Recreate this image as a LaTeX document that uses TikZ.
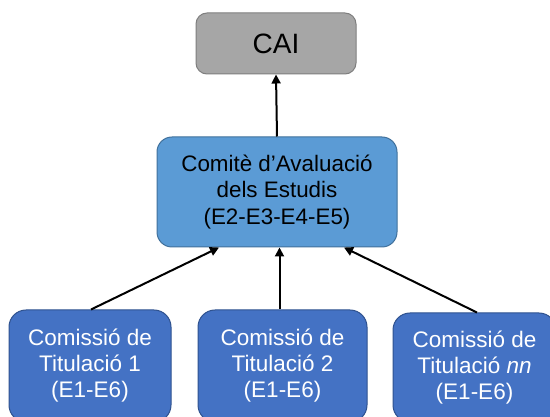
\documentclass[tikz,border=0pt]{standalone}
\usepackage{fontspec}
\setmainfont{Liberation Sans}
\usetikzlibrary{arrows.meta}
\definecolor{caifill}{HTML}{A6A6A6}
\definecolor{caidraw}{HTML}{7F7F7F}
\definecolor{midfill}{HTML}{5B9BD5}
\definecolor{middraw}{HTML}{41719C}
\definecolor{botfill}{HTML}{4472C4}
\definecolor{botdraw}{HTML}{2F528F}
\tikzset{
  box/.style={rectangle, inner sep=0pt, align=center, line width=1pt},
  caibox/.style={box, fill=caifill, draw=caidraw, rounded corners=11pt, text=black, font=\fontsize{28}{34}\selectfont},
  midbox/.style={box, fill=midfill, draw=middraw, rounded corners=15pt, text=black, font=\fontsize{22.4}{26.7}\selectfont},
  botbox/.style={box, fill=botfill, draw=botdraw, rounded corners=17pt, text=white, font=\fontsize{22.5}{26}\selectfont},
  conn/.style={line width=2pt, -{Triangle[length=9pt,width=9pt]}}
}
\begin{document}
\begin{tikzpicture}[x=1pt,y=-1pt]
\useasboundingbox[fill=white] (0,0) rectangle (550,417);
\clip (0,0) rectangle (550,417);
\node[caibox, minimum width=160pt, minimum height=61pt] (cai) at (276,43.5) {CAI};
\node[midbox, minimum width=240pt, minimum height=110pt] (mid) at (277,192) {Comitè d’Avaluació\\dels Estudis\\(E2-E3-E4-E5)};
\node[botbox, minimum width=162pt, minimum height=112pt] (b1) at (90,366) {Comissió de\\Titulació 1\\(E1-E6)};
\node[botbox, minimum width=169pt, minimum height=112pt] (b2) at (282.5,366) {Comissió de\\Titulació 2\\(E1-E6)};
\node[botbox, minimum width=163pt, minimum height=109pt] (b3) at (474.5,367.5) {Comissió de\\Titulació \textit{nn}\\(E1-E6)};
\draw[conn] (mid.north) -- (cai.south);
\draw[conn] ([xshift=1pt]b1.north) -- ([xshift=-58pt]mid.south);
\draw[conn] ([xshift=-3pt]b2.north) -- ([xshift=-3pt]b2.north |- mid.south);
\draw[conn] ([xshift=2.5pt]b3.north) -- ([xshift=67pt]mid.south);
\end{tikzpicture}
\end{document}
